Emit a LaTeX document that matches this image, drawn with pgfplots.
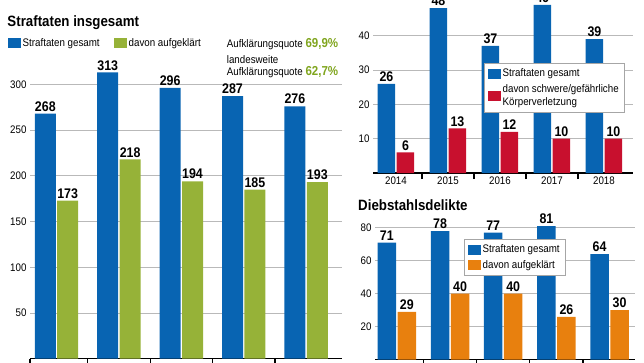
\documentclass[border=0pt]{standalone}
\usepackage{pgfplots}
\pgfplotsset{compat=1.18}
\usepackage{fontspec}
\setmainfont{Liberation Sans}[FakeStretch=0.89]
\definecolor{cblue}{RGB}{8,100,178}
\definecolor{cgreen}{RGB}{150,178,56}
\definecolor{cgreentext}{RGB}{128,165,30}
\definecolor{cred}{RGB}{200,16,46}
\definecolor{corange}{RGB}{232,128,14}
\definecolor{cgrid}{RGB}{185,185,185}
\pgfplotsset{
  base/.style={
    scale only axis,
    axis x line*=bottom, axis y line*=left,
    y axis line style={draw=none},
    x axis line style={line width=1.5bp, black, -},
    ymajorgrids, major grid style={cgrid, line width=0.9bp},
    ytick style={draw=none},
    major tick length=0pt,
    minor tick length=6bp,
    every minor tick/.append style={line width=1.2bp, black},
    tick align=inside,
    ymin=0, clip=false,
    ybar,
    tick label style={font=\fontsize{11}{11}\selectfont},
    /pgf/number format/assume math mode=true,
    nodes near coords,
    every node near coord/.append style={font=\bfseries\fontsize{14}{14}\selectfont, inner sep=2bp, black},
    legend image code/.code={\fill[##1] (0bp,-5bp) rectangle (13bp,5bp);},
    legend cell align=left,
    legend style={font=\fontsize{11}{13}\selectfont, nodes={inner sep=1.5bp}},
  }
}
\begin{document}
\begin{tikzpicture}[x=1bp,y=1bp]
% left panel
\begin{axis}[base, at={(30bp,3.26bp)}, anchor=south west,
  width=312bp, height=292.7bp,
  xmin=-0.4247, xmax=4.575, ymax=320,
  bar width=21bp,
  xtick={0,1,2,3,4}, xticklabels={},
  minor xtick={-0.4247,0.5,1.5,2.5,3.5},
  ytick={50,100,150,200,250,300},
  legend columns=2,
  legend style={draw=none, fill=none, at={(-0.0705,1.0787)}, anchor=west, inner sep=0pt,
    /tikz/every even column/.append style={column sep=13bp}},
]
\addplot[fill=cblue, draw=none, bar shift=-11.2bp] coordinates {(0,268) (1,313) (2,296) (3,287) (4,276)};
\addlegendentry{Straftaten gesamt}
\addplot[fill=cgreen, draw=none, bar shift=11.2bp] coordinates {(0,173) (1,218) (2,194) (3,185) (4,193)};
\addlegendentry{davon aufgeklärt}
\end{axis}
% top right panel
\begin{axis}[base, at={(373bp,189bp)}, anchor=south west,
  width=260bp, height=178.5bp,
  xmin=2013.558, xmax=2018.558, ymax=52,
  bar width=17.5bp,
  xtick={2014,2015,2016,2017,2018}, xticklabels={2014,2015,2016,2017,2018},
  minor xtick={2014.5,2015.5,2016.5,2017.5},
  ytick={10,20,30,40},
  legend style={draw=gray!70, fill=white, at={(0.4269,0.6146)}, anchor=north west,
    cells={align=left}, inner xsep=4bp, inner ysep=4bp, row sep=3bp},
]
\addplot[fill=cblue, draw=none, bar shift=-9.5bp] coordinates {(2014,26) (2015,48) (2016,37) (2017,49) (2018,39)};
\addlegendentry{Straftaten gesamt}
\addplot[fill=cred, draw=none, bar shift=9.5bp] coordinates {(2014,6) (2015,13) (2016,12) (2017,10) (2018,10)};
\addlegendentry{davon schwere/gefährliche\\Körperverletzung}
\end{axis}
% bottom right panel
\begin{axis}[base, at={(375bp,2.3bp)}, anchor=south west,
  width=260bp, height=140.25bp,
  xmin=2013.590, xmax=2018.477, ymax=85,
  bar width=18.5bp,
  xtick={2014,2015,2016,2017,2018}, xticklabels={},
  minor xtick={2014.5,2015.5,2016.5,2017.5},
  ytick={20,40,60,80},
  legend style={draw=gray!70, fill=white, at={(0.3423,0.8585)}, anchor=north west,
    inner xsep=4bp, inner ysep=4bp, row sep=3bp},
]
\addplot[fill=cblue, draw=none, bar shift=-10bp] coordinates {(2014,71) (2015,78) (2016,77) (2017,81) (2018,64)};
\addlegendentry{Straftaten gesamt}
\addplot[fill=corange, draw=none, bar shift=10bp] coordinates {(2014,29) (2015,40) (2016,40) (2017,26) (2018,30)};
\addlegendentry{davon aufgeklärt}
\end{axis}
% titles and notes
\node[anchor=base west, font=\bfseries\fontsize{15}{15}\selectfont, inner sep=0pt] at (7.3,336) {Straftaten insgesamt};
\node[anchor=base west, font=\bfseries\fontsize{15}{15}\selectfont, inner sep=0pt] at (358,151.3) {Diebstahlsdelikte};
\node[anchor=base west, font=\fontsize{11}{11}\selectfont, inner sep=0pt] at (226.7,314.7) {Aufklärungsquote {\bfseries\fontsize{13}{13}\selectfont\color{cgreentext}69,9\%}};
\node[anchor=base west, font=\fontsize{11}{11}\selectfont, inner sep=0pt] at (226.7,298.7) {landesweite};
\node[anchor=base west, font=\fontsize{11}{11}\selectfont, inner sep=0pt] at (226.7,287) {Aufklärungsquote {\bfseries\fontsize{13}{13}\selectfont\color{cgreentext}62,7\%}};
\pgfresetboundingbox
\path[use as bounding box] (0,0) rectangle (644,362);
\end{tikzpicture}
\end{document}
